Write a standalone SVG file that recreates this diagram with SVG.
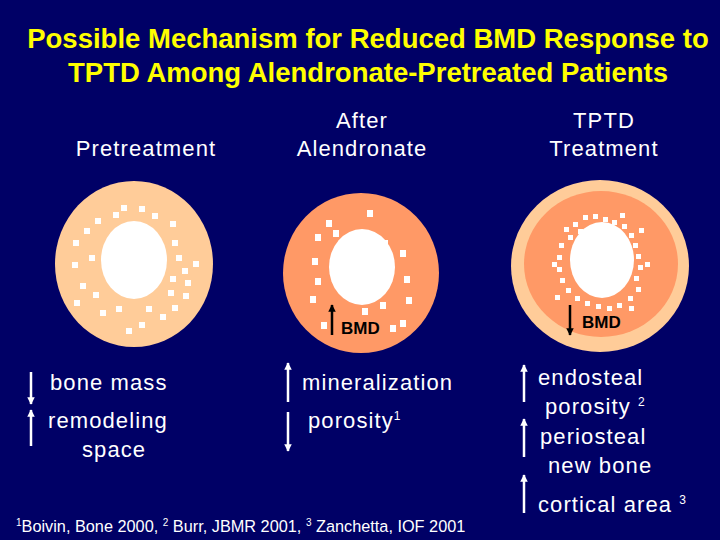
<svg xmlns="http://www.w3.org/2000/svg" width="720" height="540" viewBox="0 0 720 540">
<defs>
<marker id="ah" viewBox="0 0 10 10" refX="9" refY="5" markerWidth="3" markerHeight="4" orient="auto" markerUnits="strokeWidth"><path d="M0,0 L10,5 L0,10 z" fill="#fff"/></marker>
<marker id="ahb" viewBox="0 0 10 10" refX="9" refY="5" markerWidth="3" markerHeight="4" orient="auto" markerUnits="strokeWidth"><path d="M0,0 L10,5 L0,10 z" fill="#000"/></marker>
</defs>
<style>
.t{font-family:"Liberation Sans",Arial,sans-serif;fill:#fff;font-size:22px;letter-spacing:1.1px}
.h{font-family:"Liberation Sans",Arial,sans-serif;font-weight:bold;fill:#ffff00;font-size:27.5px}
.b{font-family:"Liberation Sans",Arial,sans-serif;font-weight:bold;fill:#000;font-size:17px}
.d{fill:#fff}
.a{stroke:#fff;stroke-width:2.5;marker-end:url(#ah)}
.ab{stroke:#000;stroke-width:2.5;marker-end:url(#ahb)}
.f{font-family:"Liberation Sans",Arial,sans-serif;fill:#fff;font-size:16.3px}
</style>
<rect width="720" height="540" fill="#000066"/>
<text class="h" x="368" y="48" text-anchor="middle">Possible Mechanism for Reduced BMD Response to</text>
<text class="h" x="368" y="82" text-anchor="middle">TPTD Among Alendronate-Pretreated Patients</text>
<text class="t" x="146" y="156" text-anchor="middle">Pretreatment</text>
<text class="t" x="362" y="128" text-anchor="middle">After</text>
<text class="t" x="362" y="156" text-anchor="middle">Alendronate</text>
<text class="t" x="604" y="128" text-anchor="middle">TPTD</text>
<text class="t" x="604" y="156" text-anchor="middle">Treatment</text>
<g id="bone1">
<ellipse cx="134" cy="264" rx="79" ry="83" fill="#ffcc99"/>
<ellipse cx="134" cy="260" rx="33" ry="39" fill="#fff"/>
<g class="d">
<rect x="121" y="205" width="6" height="6"/><rect x="139" y="206" width="6" height="6"/><rect x="95" y="218" width="6" height="6"/><rect x="113" y="212" width="6" height="6"/><rect x="152" y="213" width="6" height="6"/><rect x="170" y="221" width="6" height="6"/><rect x="73" y="240" width="6" height="6"/><rect x="84" y="228" width="6" height="6"/><rect x="172" y="240" width="6" height="6"/><rect x="72" y="262" width="6" height="6"/><rect x="89" y="255" width="6" height="6"/><rect x="176" y="255" width="6" height="6"/><rect x="80" y="283" width="6" height="6"/><rect x="74" y="300" width="6" height="6"/><rect x="93" y="292" width="6" height="6"/><rect x="170" y="276" width="6" height="6"/><rect x="182" y="268" width="6" height="6"/><rect x="193" y="261" width="6" height="6"/><rect x="168" y="290" width="6" height="6"/><rect x="183" y="293" width="6" height="6"/><rect x="172" y="305" width="6" height="6"/><rect x="116" y="306" width="6" height="6"/><rect x="146" y="306" width="6" height="6"/><rect x="160" y="314" width="6" height="6"/><rect x="139" y="322" width="6" height="6"/><rect x="126" y="328" width="6" height="6"/><rect x="185" y="280" width="6" height="6"/><rect x="100" y="310" width="6" height="6"/>
</g>
</g>
<g id="bone2">
<ellipse cx="361" cy="273" rx="78" ry="80" fill="#ff9966"/>
<ellipse cx="362" cy="267" rx="33" ry="38" fill="#fff"/>
<g class="d">
<rect x="333" y="230" width="6" height="7"/><rect x="367" y="210" width="6" height="7"/><rect x="382" y="240" width="6" height="7"/><rect x="315" y="234" width="6" height="7"/><rect x="312" y="258" width="6" height="7"/><rect x="315" y="278" width="6" height="7"/><rect x="310" y="296" width="6" height="7"/><rect x="400" y="250" width="6" height="7"/><rect x="404" y="276" width="6" height="7"/><rect x="406" y="297" width="6" height="7"/><rect x="326" y="220" width="6" height="7"/><rect x="390" y="325" width="6" height="7"/><rect x="362" y="308" width="6" height="7"/><rect x="321" y="322" width="6" height="7"/><rect x="380" y="302" width="6" height="7"/><rect x="400" y="320" width="6" height="7"/>
</g>
<line class="ab" x1="332" y1="335" x2="332" y2="305"/>
<text class="b" x="341" y="334">BMD</text>
</g>
<g id="bone3">
<ellipse cx="600" cy="266" rx="89" ry="86" fill="#ffcc99"/>
<ellipse cx="601" cy="264" rx="77" ry="73" fill="#ff9966"/>
<ellipse cx="602" cy="260" rx="32" ry="38" fill="#fff"/>
<g class="d">
<rect x="564" y="227" width="5" height="5"/><rect x="573" y="222" width="5" height="5"/><rect x="583" y="215" width="5" height="5"/><rect x="593" y="214" width="5" height="5"/><rect x="603" y="217" width="5" height="5"/><rect x="612" y="220" width="5" height="5"/><rect x="622" y="224" width="5" height="5"/><rect x="629" y="233" width="5" height="5"/><rect x="633" y="243" width="5" height="5"/><rect x="636" y="254" width="5" height="5"/><rect x="638" y="265" width="5" height="5"/><rect x="634" y="276" width="5" height="5"/><rect x="636" y="287" width="5" height="5"/><rect x="628" y="296" width="5" height="5"/><rect x="617" y="303" width="5" height="5"/><rect x="607" y="306" width="5" height="5"/><rect x="596" y="304" width="5" height="5"/><rect x="585" y="301" width="5" height="5"/><rect x="575" y="296" width="5" height="5"/><rect x="566" y="288" width="5" height="5"/><rect x="560" y="278" width="5" height="5"/><rect x="557" y="267" width="5" height="5"/><rect x="557" y="255" width="5" height="5"/><rect x="559" y="243" width="5" height="5"/><rect x="568" y="235" width="5" height="5"/><rect x="578" y="229" width="5" height="5"/><rect x="620" y="213" width="5" height="5"/><rect x="639" y="228" width="5" height="5"/><rect x="552" y="262" width="5" height="5"/><rect x="645" y="262" width="5" height="5"/><rect x="629" y="306" width="5" height="5"/><rect x="555" y="295" width="5" height="5"/>
</g>
<line class="ab" x1="570" y1="305" x2="570" y2="335"/>
<text class="b" x="582" y="328">BMD</text>
</g>
<g id="connectors">
<line class="a" x1="31" y1="372" x2="31" y2="404"/>
<line class="a" x1="31" y1="446" x2="31" y2="410"/>
<line class="a" x1="288" y1="402" x2="288" y2="363"/>
<line class="a" x1="288" y1="412" x2="288" y2="451"/>
<line class="a" x1="524" y1="402" x2="524" y2="365"/>
<line class="a" x1="524" y1="457" x2="524" y2="419"/>
<line class="a" x1="524" y1="513" x2="524" y2="475"/>
</g>
<g id="labels">
<text class="t" x="50" y="390">bone mass</text>
<text class="t" x="48" y="428">remodeling</text>
<text class="t" x="82" y="457">space</text>
<text class="t" x="302" y="390">mineralization</text>
<text class="t" x="308" y="428">porosity<tspan font-size="12" dy="-8">1</tspan></text>
<text class="t" x="538" y="385">endosteal</text>
<text class="t" x="545" y="414">porosity <tspan font-size="12" dy="-8">2</tspan></text>
<text class="t" x="540" y="444">periosteal</text>
<text class="t" x="548" y="473">new bone</text>
<text class="t" x="538" y="512">cortical area <tspan font-size="12" dy="-8">3</tspan></text>
<text class="f" x="16" y="532"><tspan font-size="10" dy="-6">1</tspan><tspan dy="6">Boivin, Bone 2000, </tspan><tspan font-size="10" dy="-6">2</tspan><tspan dy="6"> Burr, JBMR 2001, </tspan><tspan font-size="10" dy="-6">3</tspan><tspan dy="6"> Zanchetta, IOF 2001</tspan></text>
</g>
</svg>
